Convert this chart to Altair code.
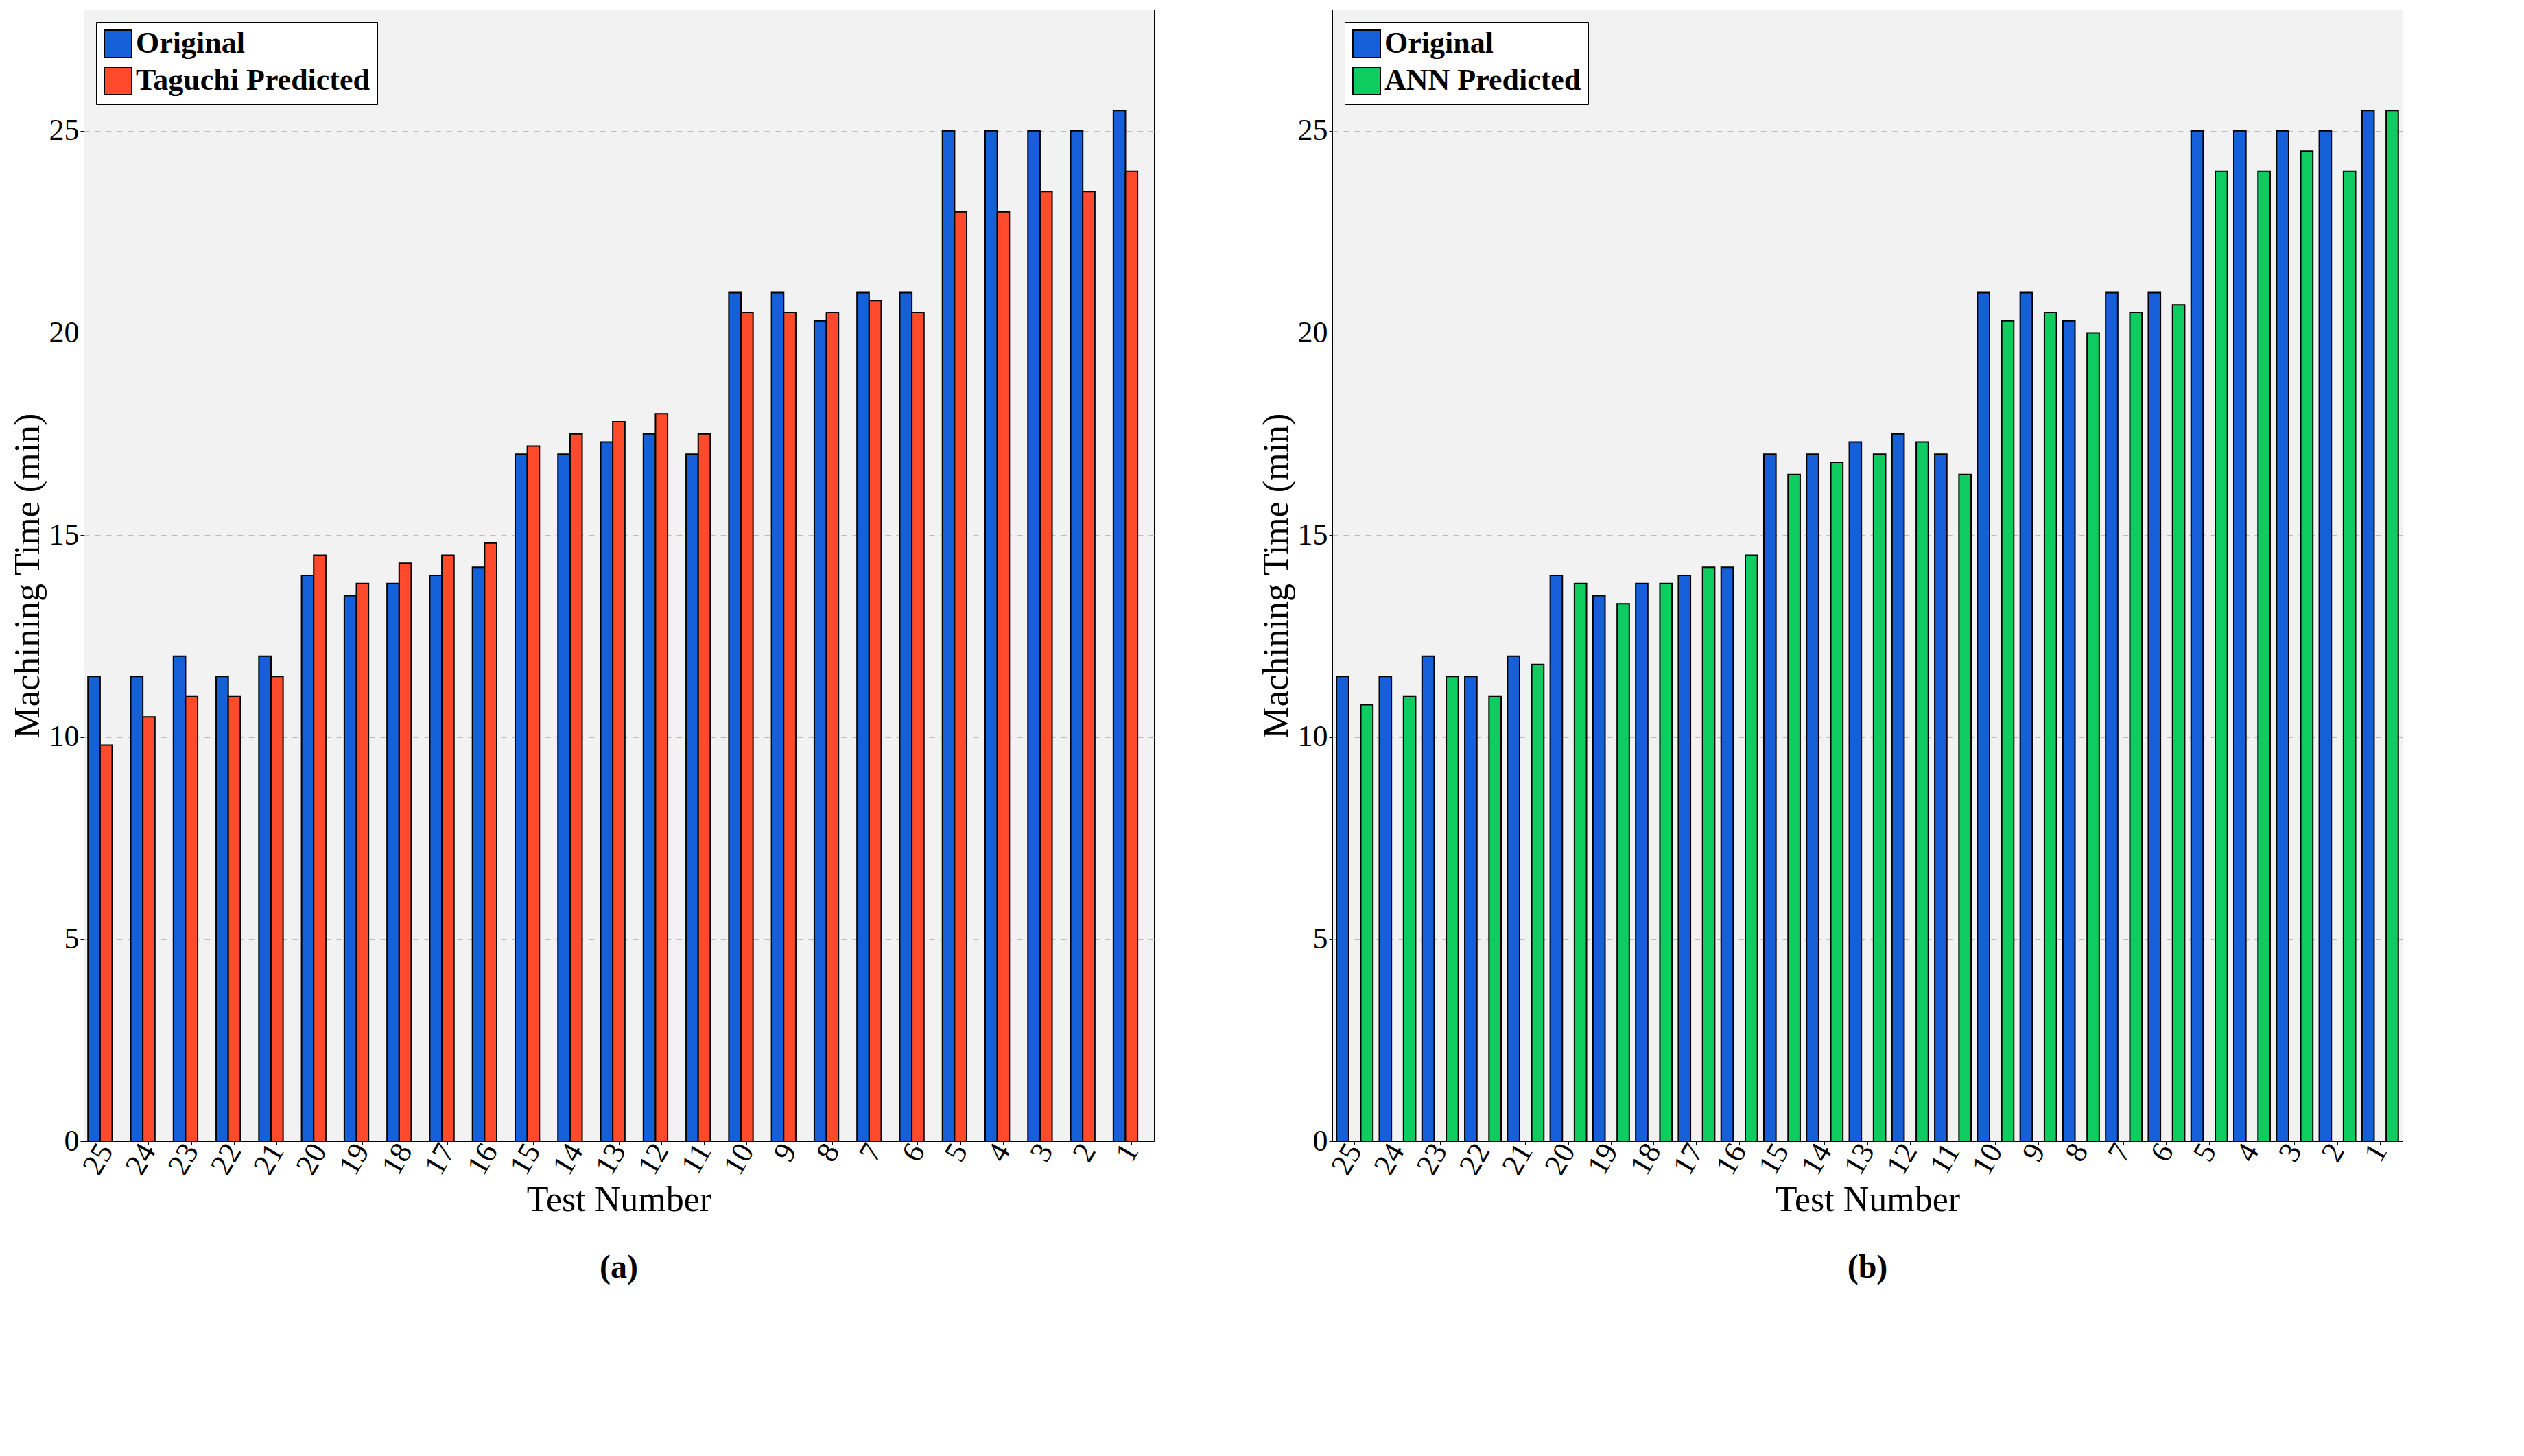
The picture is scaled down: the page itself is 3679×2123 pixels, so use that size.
import altair as alt
import pandas as pd

tests = [25, 24, 23, 22, 21, 20, 19, 18, 17, 16, 15, 14, 13, 12, 11, 10, 9, 8, 7, 6, 5, 4, 3, 2, 1]
original = [11.5, 11.5, 12.0, 11.5, 12.0, 14.0, 13.5, 13.8, 14.0, 14.2, 17.0, 17.0, 17.3, 17.5, 17.0,
            21.0, 21.0, 20.3, 21.0, 21.0, 25.0, 25.0, 25.0, 25.0, 25.5]
taguchi = [9.8, 10.5, 11.0, 11.0, 11.5, 14.5, 13.8, 14.3, 14.5, 14.8, 17.2, 17.5, 17.8, 18.0, 17.5,
           20.5, 20.5, 20.5, 20.8, 20.5, 23.0, 23.0, 23.5, 23.5, 24.0]
ann = [10.8, 11.0, 11.5, 11.0, 11.8, 13.8, 13.3, 13.8, 14.2, 14.5, 16.5, 16.8, 17.0, 17.3, 16.5,
       20.3, 20.5, 20.0, 20.5, 20.7, 24.0, 24.0, 24.5, 24.0, 25.5]

FONT = "Liberation Serif"


def panel(pred, pred_name, pred_color, caption):
    rows = []
    for t, o, p in zip(tests, original, pred):
        rows.append({"Test": str(t), "Series": "Original", "Time": o})
        rows.append({"Test": str(t), "Series": pred_name, "Time": p})
    df = pd.DataFrame(rows)
    return alt.Chart(df).mark_bar(stroke="black", strokeWidth=2).encode(
        x=alt.X("Test:N", sort=[str(t) for t in tests], title="Test Number",
                scale=alt.Scale(paddingInner=0.15, paddingOuter=0.1),
                axis=alt.Axis(labelAngle=-60, grid=False)),
        xOffset=alt.XOffset("Series:N", sort=["Original", pred_name]),
        y=alt.Y("Time:Q", scale=alt.Scale(domain=[0, 28]), title="Machining Time (min)",
                axis=alt.Axis(values=[0, 5, 10, 15, 20, 25], gridDash=[8, 8], gridColor="#bbbbbb")),
        color=alt.Color("Series:N", sort=["Original", pred_name],
                        scale=alt.Scale(domain=["Original", pred_name], range=["#1560d8", pred_color]),
                        legend=alt.Legend(title=None, orient="top-left", fillColor="white",
                                          strokeColor="black", padding=10, labelFontSize=44,
                                          labelFontWeight="bold", labelLimit=0, symbolSize=1600,
                                          symbolType="square", symbolStrokeColor="black",
                                          symbolStrokeWidth=2, rowPadding=6)),
    ).properties(
        width=1560, height=1650,
        title=alt.TitleParams(text=caption, orient="bottom", fontSize=48, fontWeight="bold", font=FONT, offset=50),
    )


a = panel(taguchi, "Taguchi Predicted", "#ff4b2b", "(a)")
b = panel(ann, "ANN Predicted", "#0fcc60", "(b)")

chart = alt.hconcat(a, b, spacing=150).resolve_scale(color="independent").configure(
    font=FONT, background="white"
).configure_axis(
    labelFontSize=44, titleFontSize=52, titleFontWeight="normal", labelColor="black", titleColor="black",
    domainColor="black", tickColor="black"
).configure_view(fill="#f2f2f2", stroke="black")

chart.save("out.html", embed_options={"renderer": "svg", "actions": False})
